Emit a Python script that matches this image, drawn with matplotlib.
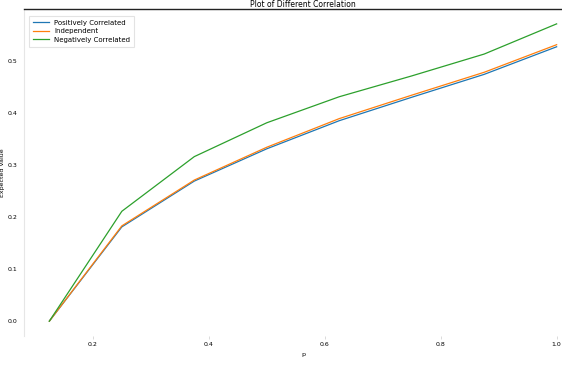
import matplotlib
matplotlib.use("Agg")
import matplotlib.pyplot as plt

# values
p_values = [0.125, 0.25, 0.375, 0.5, 0.625, 0.75, 0.875, 1.0]
positively_correlated = [0.0, 0.181, 0.269, 0.331, 0.385, 0.430, 0.474, 0.527]
independent = [0.0, 0.183, 0.271, 0.334, 0.389, 0.434, 0.478, 0.531]
negatively_correlated = [0.0, 0.211, 0.316, 0.381, 0.431, 0.471, 0.513, 0.571]

plt.rcParams["font.family"] = "DejaVu Sans"

fig = plt.figure(figsize=(5.62, 3.88), dpi=100)
ax = fig.add_axes([24 / 562, 1 - 336 / 388, 558 / 562, 327 / 388])

ax.plot(p_values, positively_correlated, color="#1f77b4", lw=0.9, label="Positively Correlated")
ax.plot(p_values, independent, color="#ff7f0e", lw=0.9, label="Independent")
ax.plot(p_values, negatively_correlated, color="#2ca02c", lw=0.9, label="Negatively Correlated")

ax.set_title("Plot of Different Correlation", fontsize=5.5, pad=1.5)
ax.set_xlabel("p", fontsize=4.5, labelpad=4)
ax.set_ylabel("Expected Value", fontsize=4.5, labelpad=2)

ax.set_xticks([0.2, 0.4, 0.6, 0.8, 1.0])
ax.set_yticks([0.0, 0.1, 0.2, 0.3, 0.4, 0.5])
ax.tick_params(axis="x", labelsize=4.5, length=2, width=0.5, color="#cccccc", pad=2)
ax.tick_params(axis="y", labelsize=4.5, length=0, pad=4.5)

for side in ["bottom", "right"]:
    ax.spines[side].set_visible(False)
ax.spines["left"].set_color("#e6e6e6")
ax.spines["left"].set_linewidth(0.8)
ax.spines["top"].set_color("#222222")
ax.spines["top"].set_linewidth(1.0)

leg = ax.legend(loc="upper left", fontsize=5, frameon=True, fancybox=False,
                borderpad=0.6, handlelength=2.2, labelspacing=0.35,
                bbox_to_anchor=(0.003, 0.99))
leg.get_frame().set_edgecolor("#dddddd")
leg.get_frame().set_linewidth(0.8)

fig.savefig("out.png", dpi=100)
